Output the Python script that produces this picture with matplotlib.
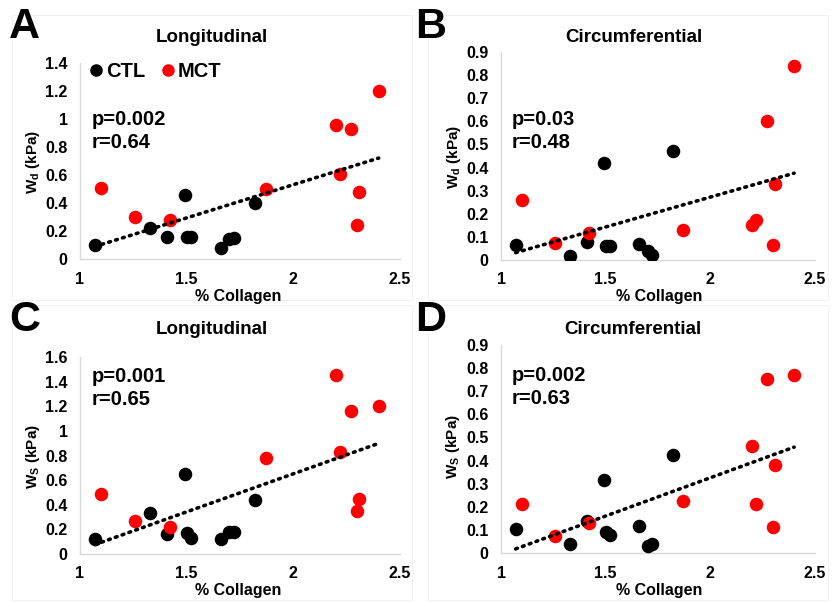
import numpy as np
import matplotlib
matplotlib.use("Agg")
import matplotlib.pyplot as plt
from matplotlib.lines import Line2D
from matplotlib.patches import Rectangle

plt.rcParams['font.family'] = ['Liberation Sans', 'DejaVu Sans']
plt.rcParams['font.weight'] = 'bold'

# ---- data ----
ctl_x = [1.07, 1.33, 1.41, 1.49, 1.50, 1.52, 1.66, 1.70, 1.72, 1.82]
mct_x = [1.10, 1.26, 1.42, 1.87, 2.20, 2.22, 2.27, 2.30, 2.31, 2.40]

# A: Longitudinal Wd
a_ctl = [0.10, 0.22, 0.16, 0.46, 0.16, 0.16, 0.08, 0.14, 0.15, 0.40]
a_mct = [0.51, 0.30, 0.28, 0.50, 0.955, 0.61, 0.93, 0.245, 0.48, 1.20]
# B: Circumferential Wd
b_ctl = [0.065, 0.017, 0.08, 0.42, 0.062, 0.062, 0.07, 0.04, 0.02, 0.47]
b_mct = [0.258, 0.072, 0.116, 0.13, 0.152, 0.171, 0.60, 0.065, 0.33, 0.84]
# C: Longitudinal Ws
c_ctl = [0.12, 0.33, 0.16, 0.65, 0.17, 0.13, 0.12, 0.18, 0.18, 0.44]
c_mct = [0.485, 0.27, 0.22, 0.776, 1.45, 0.83, 1.16, 0.35, 0.45, 1.20]
# D: Circumferential Ws
d_ctl = [0.103, 0.039, 0.14, 0.317, 0.093, 0.079, 0.117, 0.029, 0.039, 0.426]
d_mct = [0.211, 0.074, 0.131, 0.224, 0.461, 0.211, 0.754, 0.114, 0.381, 0.771]

titles = ["Longitudinal", "Circumferential", "Longitudinal", "Circumferential"]
letters = ["A", "B", "C", "D"]
stats = [("p=0.002", "r=0.64"), ("p=0.03", "r=0.48"),
         ("p=0.001", "r=0.65"), ("p=0.002", "r=0.63")]
ylabels = ["W$_\\mathregular{d}$ (kPa)", "W$_\\mathregular{d}$ (kPa)",
           "W$_\\mathregular{S}$ (kPa)", "W$_\\mathregular{S}$ (kPa)"]
ymaxes = [1.4, 0.9, 1.6, 0.9]
ysteps = [0.2, 0.1, 0.2, 0.1]
ydata = [(a_ctl, a_mct), (b_ctl, b_mct), (c_ctl, c_mct), (d_ctl, d_mct)]

W, H = 833, 602
fig = plt.figure(figsize=(W / 100, H / 100), dpi=100)

# axes boxes in pixels: left, top, right, bottom
boxes = [(80, 63, 400, 259), (501, 52, 815, 260),
         (80, 357, 400, 554), (501, 345, 815, 553)]
# chart-area frames
frames = [(12, 15, 412, 300), (428, 15, 828, 300),
          (12, 305, 412, 600), (428, 305, 828, 600)]
title_pos = [(212, 38), (634, 38), (212, 330), (633, 330)]
letter_pos = [(9, 27), (415, 27), (9, 320), (415, 320)]
ylab_pos = [(33, 162), (454, 157), (33, 457), (453, 447)]
xlab_pos = [(238, 296), (659, 296), (238, 590), (659, 590)]
stat_pos = [(92, 131), (512, 131), (92, 388), (512, 387)]

def fx(px):
    return px / W

def fy(py):
    return 1 - py / H

for (l, t, r, b) in frames:
    fig.patches.append(Rectangle((fx(l), fy(b)), fx(r - l), (b - t) / H,
                                 transform=fig.transFigure, fill=False,
                                 edgecolor='#F2F2F2', linewidth=0.8))

def fmt(v):
    s = f"{v:.1f}"
    if s.endswith(".0"):
        s = s[:-2]
    return s

for i in range(4):
    l, t, r, b = boxes[i]
    ax = fig.add_axes([fx(l), fy(b), fx(r - l), (b - t) / H])
    yc, ym = ydata[i]
    ax.scatter(ctl_x, yc, s=95, color='black', zorder=3, linewidths=0)
    ax.scatter(mct_x, ym, s=95, color='#FF0000', zorder=3, linewidths=0)
    allx = np.array(ctl_x + mct_x)
    ally = np.array(yc + ym)
    k, c0 = np.polyfit(allx, ally, 1)
    xs = np.array([allx.min(), allx.max()])
    ax.plot(xs, k * xs + c0, color='black', linewidth=2.6,
            linestyle=(0, (0.5, 1.5)), dash_capstyle='round', zorder=4)

    ax.set_xlim(1, 2.5)
    ax.set_ylim(0, ymaxes[i])
    xt = [1, 1.5, 2, 2.5]
    ax.set_xticks(xt)
    ax.set_xticklabels([fmt(v) for v in xt])
    yt = np.round(np.arange(0, ymaxes[i] + 1e-9, ysteps[i]), 2)
    ax.set_yticks(yt)
    ax.set_yticklabels([fmt(v) for v in yt])
    ax.tick_params(length=0, labelsize=11.5, pad=9)
    for lab in ax.get_xticklabels() + ax.get_yticklabels():
        lab.set_fontweight('bold')
    for sp in ['top', 'right']:
        ax.spines[sp].set_visible(False)
    for sp in ['left', 'bottom']:
        ax.spines[sp].set_color('#D9D9D9')
        ax.spines[sp].set_linewidth(1.0)
    ax.patch.set_alpha(0)

    fig.text(fx(title_pos[i][0]), fy(title_pos[i][1]), titles[i],
             ha='center', va='center', fontsize=13.5, fontweight='bold')
    fig.text(fx(letter_pos[i][0]), fy(letter_pos[i][1]), letters[i],
             ha='left', va='center', fontsize=31, fontweight='bold')
    fig.text(fx(ylab_pos[i][0]), fy(ylab_pos[i][1]), ylabels[i],
             ha='center', va='center', rotation=90, fontsize=11,
             fontweight='bold')
    fig.text(fx(xlab_pos[i][0]), fy(xlab_pos[i][1]), "% Collagen",
             ha='center', va='center', fontsize=11.5, fontweight='bold')
    fig.text(fx(stat_pos[i][0]), fy(stat_pos[i][1]),
             stats[i][0] + "\n" + stats[i][1], ha='left', va='center',
             fontsize=14.5, fontweight='bold', linespacing=1.3)

    if i == 0:
        handles = [Line2D([], [], marker='o', linestyle='none', color='black',
                          markersize=8, label='CTL'),
                   Line2D([], [], marker='o', linestyle='none', color='#FF0000',
                          markersize=8, label='MCT')]
        ax.legend(handles=handles, loc='upper left', ncol=2, frameon=False,
                  prop={'weight': 'bold', 'size': 14.5}, handletextpad=0.0,
                  columnspacing=0.6, handlelength=1.0,
                  bbox_to_anchor=(-0.025, 1.075), borderaxespad=0.3)

fig.savefig("out.png", dpi=100)
